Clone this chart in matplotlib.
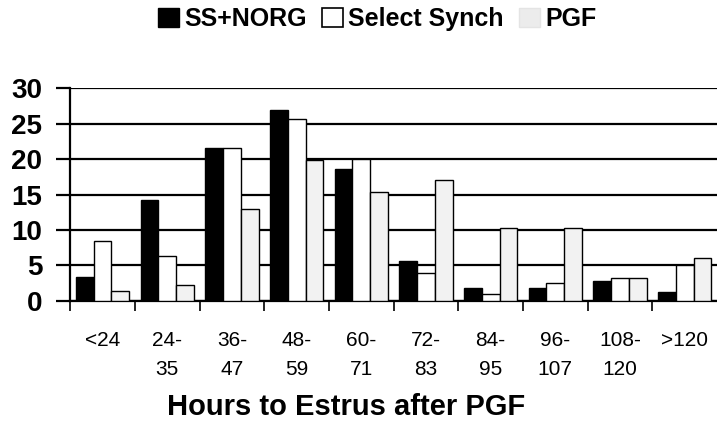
import numpy as np
import matplotlib
matplotlib.use("Agg")
import matplotlib.pyplot as plt
from matplotlib.patches import Patch

plt.rcParams['font.family'] = ['Liberation Sans', 'DejaVu Sans']

# --- data ---
categories = ['<24', '24-\n35', '36-\n47', '48-\n59', '60-\n71', '72-\n83',
              '84-\n95', '96-\n107', '108-\n120', '>120']
ss_norg = [3.3, 14.2, 21.6, 26.9, 18.6, 5.6, 1.8, 1.8, 2.8, 1.2]
select_synch = [8.4, 6.4, 21.6, 25.7, 20.0, 4.0, 1.0, 2.5, 3.2, 5.0]
pgf = [1.4, 2.2, 13.0, 19.8, 15.4, 17.0, 10.3, 10.3, 3.2, 6.1]

series = [('SS+NORG', ss_norg, 'black'),
          ('Select Synch', select_synch, 'white'),
          ('PGF', pgf, '#f2f2f2')]

fig = plt.figure(figsize=(7.17, 4.28), dpi=100)
ax = fig.add_axes([0.098, 0.297, 0.902, 0.497])

x = np.arange(len(categories))
w = 0.275
for i, (name, vals, col) in enumerate(series):
    ax.bar(x + (i - 1) * w, vals, width=w, color=col, edgecolor='black',
           linewidth=1.0, label=name, zorder=3)

ax.set_xlim(-0.5, len(categories) - 0.5)
ax.set_ylim(0, 30)
ax.set_yticks(range(0, 31, 5))
ax.yaxis.grid(True, color='black', linewidth=1.6, zorder=0)
ax.set_axisbelow(True)

for s in ['top', 'right']:
    ax.spines[s].set_visible(False)
ax.spines['left'].set_linewidth(1.6)
ax.spines['bottom'].set_linewidth(1.6)

ax.set_xticks(x)
ax.set_xticklabels(categories, fontsize=15, linespacing=1.62)
ax.tick_params(axis='x', which='major', length=0, pad=22)
ax.set_xticks(np.arange(-0.5, len(categories) - 0.5, 1), minor=True)
ax.tick_params(axis='x', which='minor', length=7, width=1.2, direction='out')
ax.tick_params(axis='y', length=10, width=1.6, labelsize=20, pad=10)
for lab in ax.get_yticklabels():
    lab.set_fontweight('bold')

ax.set_xlabel('Hours to Estrus after PGF', fontsize=21, fontweight='bold',
              labelpad=10, x=0.427)

# legend patches like the original (PGF swatch is very faint)
handles = [Patch(facecolor='black', edgecolor='black'),
           Patch(facecolor='white', edgecolor='black', linewidth=1.2),
           Patch(facecolor='#ececec', edgecolor='#e4e4e4')]
fig.legend(handles, [s[0] for s in series], loc='center',
           bbox_to_anchor=(0.526, 0.955), ncol=3, frameon=False,
           handlelength=0.85, handleheight=0.8, handletextpad=0.2,
           columnspacing=0.6, prop={'weight': 'bold', 'size': 18})

plt.savefig('out.png', dpi=100)
